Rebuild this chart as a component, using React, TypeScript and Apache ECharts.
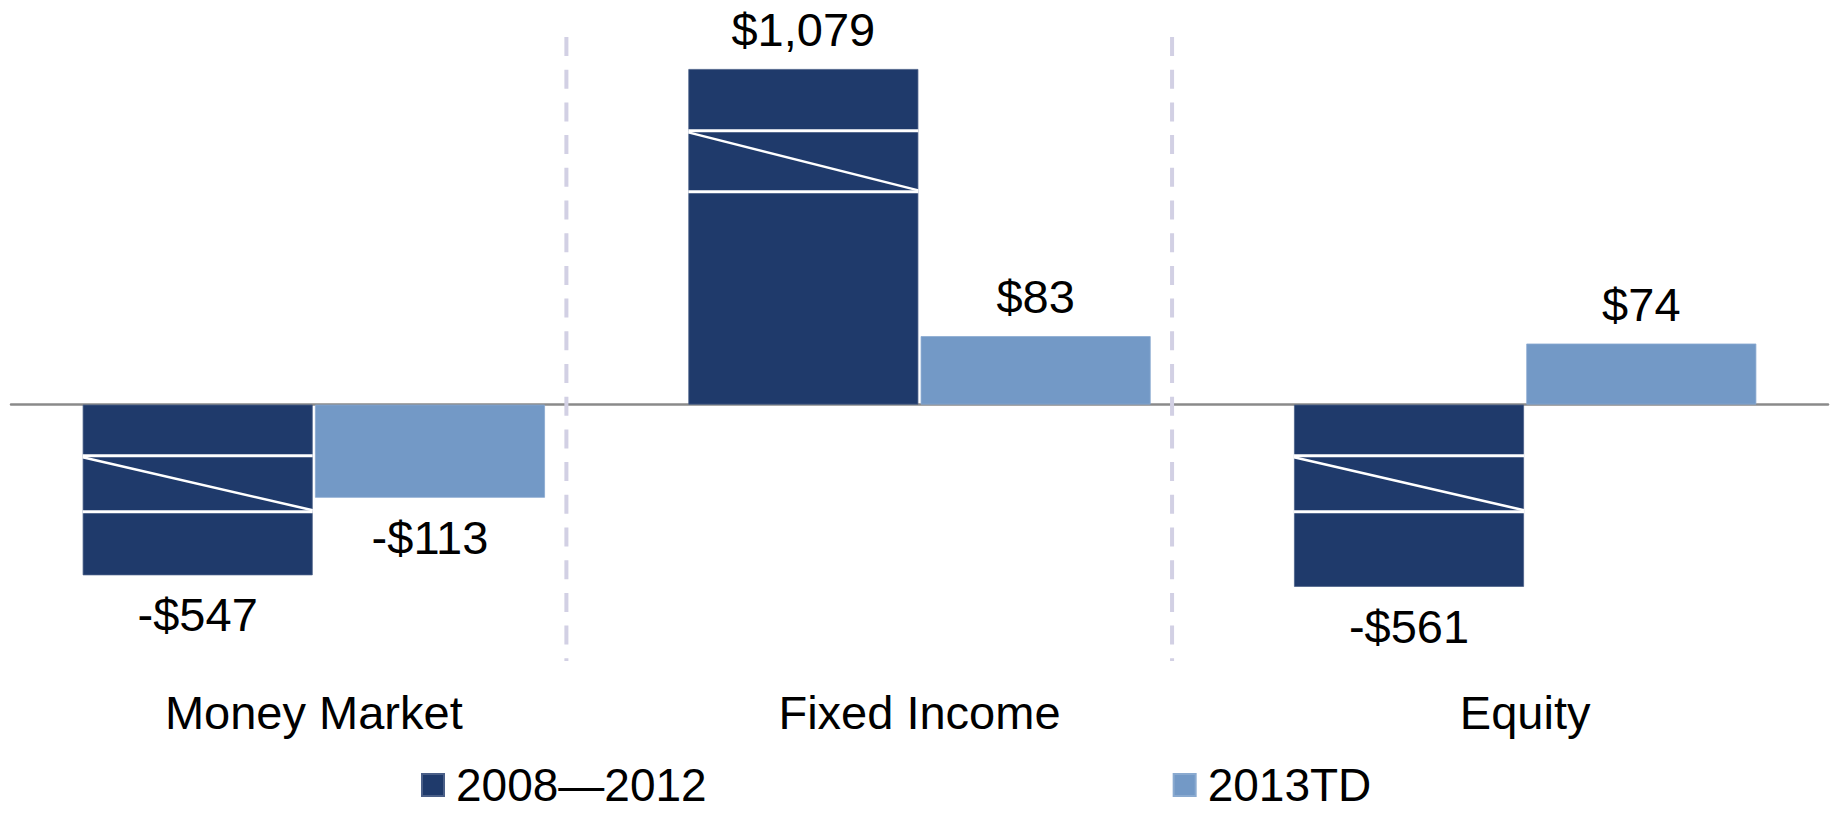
import React, { useEffect, useRef } from 'react';
import * as echarts from 'echarts';

// ---- data ----
const categories = ['Money Market', 'Fixed Income', 'Equity'];
const seriesNames = ['2008—2012', '2013TD'];
const flows2008to2012 = [-547, 1079, -561];
const flows2013TD = [-113, 83, 74];
// value-axis scale breaks (the long bars are drawn with a broken scale)
const axisBreaks = [
  { start: -470, end: -130 },
  { start: 258, end: 930 },
];
// break marks on the long bars: [category index, first line value, second line value]
const breakMarks = [
  [0, -62, -130],
  [1, 1004, 258],
  [2, -62, -130],
];
// dashed dividers after these categories
const dividerAfter = [0, 1];
const yMin = -674;
const yMax = 1079;

const FONT = "'Liberation Sans', Arial, Helvetica, sans-serif";
const DARK = '#1F3A6B';
const LIGHT = '#7399C6';
const BAR_W = 230;
const BAR_GAP = 0.01;

const fmt = (v: number) =>
  (v < 0 ? '-' : '') + '$' + Math.abs(v).toLocaleString('en-US');

const barData = (arr: number[]) =>
  arr.map((v) => ({ value: v, label: { position: v < 0 ? 'bottom' : 'top' } }));

export default function App() {
  const ref = useRef<HTMLDivElement>(null);

  useEffect(() => {
    if (!ref.current) return;
    const chart = echarts.init(ref.current, undefined, { renderer: 'svg' });

    const labelStyle = {
      show: true,
      distance: 16,
      fontSize: 47,
      lineHeight: 47,
      color: '#000',
      fontFamily: FONT,
      formatter: (p: any) => fmt(p.value),
    };

    const option: any = {
      animation: false,
      backgroundColor: '#ffffff',
      textStyle: { fontFamily: FONT },
      grid: {
        left: 11,
        right: 13,
        top: 69,
        bottom: 133,
        containLabel: false,
        outerBoundsMode: 'none',
      },
      legend: {
        data: seriesNames.map((n) => ({ name: n, icon: 'rect' })),
        left: 421,
        top: 762,
        padding: 0,
        itemWidth: 22,
        itemHeight: 22,
        itemGap: 466,
        selectedMode: false,
        textStyle: {
          fontSize: 46,
          lineHeight: 46,
          color: '#000',
          fontFamily: FONT,
          padding: [0, 0, 0, 7],
        },
      },
      xAxis: [
        {
          type: 'category',
          data: categories,
          axisLine: { show: true, onZero: true, lineStyle: { color: '#8a8a8a', width: 2.5 } },
          axisTick: { show: false },
          splitLine: { show: false },
          axisLabel: { show: false },
        },
        {
          type: 'category',
          data: categories,
          position: 'bottom',
          axisLine: { show: false, onZero: false },
          axisTick: { show: false },
          splitLine: { show: false },
          axisLabel: {
            margin: 9,
            fontSize: 47,
            lineHeight: 47,
            color: '#000',
            fontFamily: FONT,
          },
        },
      ],
      yAxis: {
        type: 'value',
        min: yMin,
        max: yMax,
        breaks: axisBreaks.map((b) => ({ start: b.start, end: b.end, gap: 0 })),
        breakArea: { show: false },
        axisLine: { show: false },
        axisTick: { show: false },
        axisLabel: { show: false },
        splitLine: { show: false },
      },
      series: [
        {
          name: seriesNames[0],
          type: 'bar',
          xAxisIndex: 0,
          data: barData(flows2008to2012),
          barWidth: BAR_W,
          barGap: BAR_GAP * 100 + '%',
          itemStyle: { color: DARK, borderColor: '#4a5f88', borderWidth: 0.8 },
          label: labelStyle,
          z: 2,
        },
        {
          name: seriesNames[1],
          type: 'bar',
          xAxisIndex: 0,
          data: barData(flows2013TD),
          barWidth: BAR_W,
          barGap: BAR_GAP * 100 + '%',
          itemStyle: { color: LIGHT, borderColor: '#8aaad0', borderWidth: 0.8 },
          label: labelStyle,
          z: 2,
        },
        {
          name: 'break marks',
          type: 'custom',
          xAxisIndex: 0,
          clip: false,
          z: 5,
          silent: true,
          encode: { x: 0, y: [1, 2] },
          data: breakMarks,
          renderItem: (params: any, api: any) => {
            const idx = api.value(0);
            const pA = api.coord([idx, api.value(1)]);
            const pB = api.coord([idx, api.value(2)]);
            const gap = BAR_W * BAR_GAP;
            const x0 = pA[0] - BAR_W - gap / 2;
            const x1 = pA[0] - gap / 2;
            const yTop = Math.min(pA[1], pB[1]);
            const yBot = Math.max(pA[1], pB[1]);
            const st = { stroke: '#ffffff', lineWidth: 3 };
            return {
              type: 'group',
              children: [
                { type: 'line', shape: { x1: x0, y1: yTop, x2: x1, y2: yTop }, style: st },
                { type: 'line', shape: { x1: x0, y1: yBot, x2: x1, y2: yBot }, style: st },
                {
                  type: 'line',
                  shape: { x1: x0, y1: yTop + 1.5, x2: x1, y2: yBot - 1.5 },
                  style: { stroke: '#ffffff', lineWidth: 2.5 },
                },
              ],
            };
          },
        },
        {
          name: 'dividers',
          type: 'custom',
          xAxisIndex: 0,
          clip: false,
          z: 6,
          silent: true,
          encode: { x: 0, y: 1 },
          data: dividerAfter.map((i) => [i, 0]),
          renderItem: (params: any, api: any) => {
            const c = api.coord([api.value(0), 0]);
            const band = api.size([1, 0])[0];
            const x = c[0] + band * 0.417;
            const cs = params.coordSys;
            return {
              type: 'line',
              shape: { x1: x, y1: cs.y - 32, x2: x, y2: cs.y + cs.height - 19 },
              style: { stroke: '#D2D0E4', lineWidth: 4, lineDash: [19, 13.7] },
            };
          },
        },
      ],
    };

    chart.setOption(option);
    return () => chart.dispose();
  }, []);

  return (
    <div
      ref={ref}
      style={{ position: 'fixed', left: 0, top: 0, width: 1841, height: 813, background: '#fff' }}
    />
  );
}
